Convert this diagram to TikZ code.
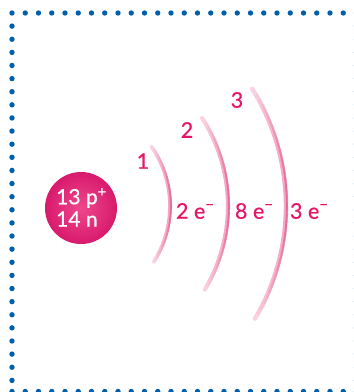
\documentclass[tikz,border=0pt]{standalone}
\usepackage{fontspec}
\setmainfont{Lato}[FakeBold=0.6]
\definecolor{dotblue}{RGB}{0,95,170}
\definecolor{txtpink}{RGB}{230,22,104}
\definecolor{arcbase}{RGB}{244,170,198}
\definecolor{arcdark}{RGB}{230,108,152}
\definecolor{arcend}{RGB}{250,214,228}
\definecolor{nucin}{RGB}{238,72,142}
\definecolor{nucout}{RGB}{216,26,108}
\newcommand{\eminus}{e\raisebox{0.42em}{\fontsize{15}{15}\selectfont −}}
\tikzset{
  lbl/.style={text=txtpink, font=\fontsize{21.5}{24}\selectfont, inner sep=0pt},
  nuctext/.style={text=white, font=\fontsize{21}{24}\selectfont, inner sep=0pt, anchor=west},
  dotmark/.style={fill=dotblue},
}
\begin{document}
\begin{tikzpicture}[x=1pt,y=-1pt]
\useasboundingbox (0,0) rectangle (354,392);
\clip (0,0) rectangle (354,392);
% dotted frame
\foreach \k in {0,...,26} {
  \fill[dotmark] ({12+13.25*\k},13) circle (2.7);
  \fill[dotmark] ({12+13.25*\k},391.5) circle (2.7);
}
\foreach \k in {1,...,28} {
  \fill[dotmark] (12,{13+13.12*\k}) circle (2.7);
  \fill[dotmark] (356.5,{13+13.12*\k}) circle (2.7);
}
% shells: light base stroke, darker outer edge, both fading to the ends
\foreach \R/\a/\b/\w in {104/-32.6/34.8/3.6, 162/-31.1/32.9/4.1, 220/-30.8/32.2/4.4} {
  \foreach \i in {0,...,39} {
    \pgfmathsetmacro{\ta}{\a+(\b-\a)*\i/40}
    \pgfmathsetmacro{\tb}{\a+(\b-\a)*(\i+1)/40}
    \pgfmathsetmacro{\m}{abs((\i+0.5)/40*2-1)}
    \pgfmathtruncatemacro{\p}{100*(1-\m*\m*\m)}
    \draw[line width=\w pt, line cap=round, color=arcbase!\p!arcend]
      ({66+\R*cos(\ta)},{206-\R*sin(\ta)}) -- ({66+\R*cos(\tb)},{206-\R*sin(\tb)});
  }
  \foreach \i in {0,...,39} {
    \pgfmathsetmacro{\ta}{\a+(\b-\a)*\i/40}
    \pgfmathsetmacro{\tb}{\a+(\b-\a)*(\i+1)/40}
    \pgfmathsetmacro{\m}{abs((\i+0.5)/40*2-1)}
    \pgfmathtruncatemacro{\p}{100*(1-\m*\m)}
    \pgfmathsetmacro{\r}{\R+0.9}
    \draw[line width=1.8pt, line cap=round, color=arcdark!\p!arcend]
      ({66+\r*cos(\ta)},{206-\r*sin(\ta)}) -- ({66+\r*cos(\tb)},{206-\r*sin(\tb)});
  }
}
% nucleus
\node[circle, minimum size=72pt, inner sep=0pt, inner color=nucin, outer color=nucout] (nuc) at (81,208) {};
\node[nuctext] (prot) at (56,198) {13 p\textsuperscript{+}};
\node[nuctext] (neut) at (56,219) {14 n};
% shell numbers
\node[lbl] (s1) at (143,161) {1};
\node[lbl] (s2) at (187,130) {2};
\node[lbl] (s3) at (237,100) {3};
% electron counts
\node[lbl] (e1) at (195,211) {2 \eminus};
\node[lbl] (e2) at (254,211) {8 \eminus};
\node[lbl] (e3) at (309,211) {3 \eminus};
\end{tikzpicture}
\end{document}
